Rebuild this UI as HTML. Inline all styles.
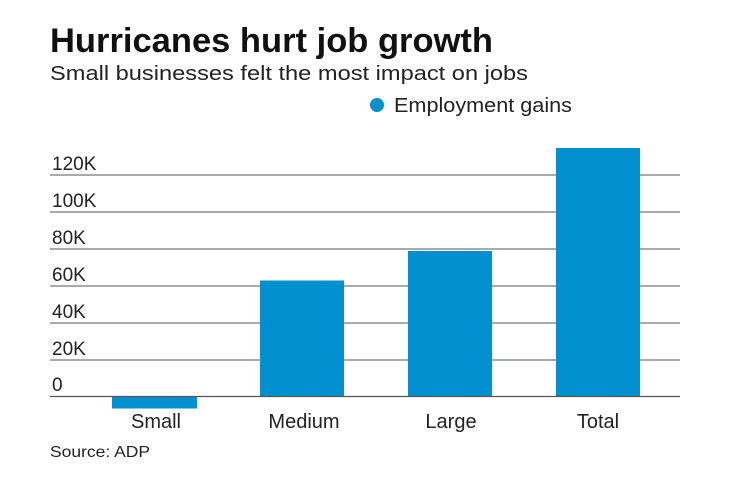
<!DOCTYPE html>
<html><head><style>
body{margin:0;background:#fff;width:740px;height:482px;overflow:hidden;font-family:"Liberation Sans",sans-serif;}
</style></head><body>
<svg width="740" height="482" xmlns="http://www.w3.org/2000/svg" font-family="Liberation Sans, sans-serif">
<text x="50" y="52" font-size="34" font-weight="bold" fill="#111" textLength="443" lengthAdjust="spacingAndGlyphs">Hurricanes hurt job growth</text>
<text x="50" y="80" font-size="20" fill="#222" textLength="478" lengthAdjust="spacingAndGlyphs">Small businesses felt the most impact on jobs</text>
<circle cx="377" cy="105" r="7" fill="#0090d0"/>
<text x="394" y="112" font-size="20" fill="#222" textLength="178" lengthAdjust="spacingAndGlyphs">Employment gains</text>
<g stroke="#777" stroke-width="1.2">
<line x1="50" x2="680" y1="175" y2="175"/>
<line x1="50" x2="680" y1="212" y2="212"/>
<line x1="50" x2="680" y1="249" y2="249"/>
<line x1="50" x2="680" y1="286" y2="286"/>
<line x1="50" x2="680" y1="323" y2="323"/>
<line x1="50" x2="680" y1="360" y2="360"/>
</g>
<g font-size="19" fill="#222">
<text x="52" y="170">120K</text>
<text x="52" y="207">100K</text>
<text x="52" y="244">80K</text>
<text x="52" y="281">60K</text>
<text x="52" y="318">40K</text>
<text x="52" y="355">20K</text>
<text x="52" y="391">0</text>
</g>
<g fill="#0090d0">
<rect x="112" y="396" width="85" height="12.5"/>
<rect x="260" y="280.5" width="84" height="116"/>
<rect x="408" y="251" width="84" height="145.5"/>
<rect x="556" y="148" width="84" height="248.5"/>
</g>
<line x1="50" x2="680" y1="396.5" y2="396.5" stroke="#555" stroke-width="1.2"/>
<g font-size="20" fill="#222" text-anchor="middle">
<text x="156" y="428">Small</text>
<text x="304" y="428">Medium</text>
<text x="451" y="428">Large</text>
<text x="598" y="428">Total</text>
</g>
<text x="50" y="457" font-size="16" fill="#222" textLength="100" lengthAdjust="spacingAndGlyphs">Source: ADP</text>
</svg>
</body></html>
